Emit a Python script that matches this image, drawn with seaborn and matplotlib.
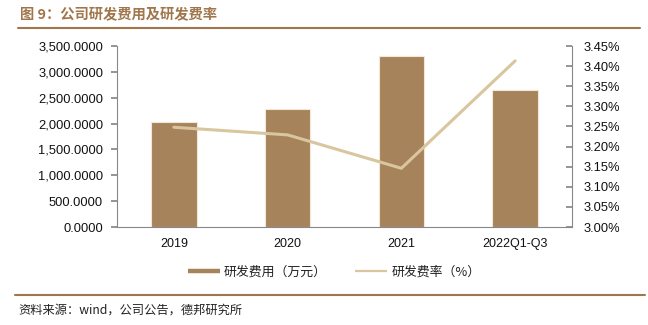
import matplotlib
matplotlib.use("Agg")
import matplotlib.pyplot as plt
import seaborn as sns
import numpy as np
import pandas as pd
from matplotlib.lines import Line2D
from matplotlib.ticker import FuncFormatter, MultipleLocator

categories = ["2019", "2020", "2021", "2022Q1-Q3"]
rd_expense = [2030, 2280, 3305, 2642]
rd_rate = [3.248, 3.229, 3.146, 3.413]

title_text = "图 9：公司研发费用及研发费率"
bar_label = "研发费用（万元）"
line_label = "研发费率（%）"
source_text = "资料来源：wind，公司公告，德邦研究所"

sns.set_theme(style="white")
plt.rcParams['font.family'] = ['Liberation Sans', 'Noto Sans CJK SC', 'DejaVu Sans']

bar_color = "#A6835B"
line_color = "#D9C59E"
brown = "#A0764C"
axis_gray = "#888888"

fig = plt.figure(figsize=(6.48, 3.25), dpi=100)
W, H = 648, 325
ax = fig.add_axes([117 / W, (H - 227) / H, 455 / W, 181 / H])

df = pd.DataFrame({"cat": categories, "exp": rd_expense})
sns.barplot(data=df, x="cat", y="exp", ax=ax, color=bar_color, width=0.4,
            edgecolor="#F3E8D8", linewidth=0.8, saturation=1)
ax.set_xlim(-0.5, 3.5)
ax.set_ylim(0, 3500)
ax.yaxis.set_major_locator(MultipleLocator(500))
ax.yaxis.set_major_formatter(FuncFormatter(lambda v, p: f"{v:,.4f}"))
ax.set_xlabel("")
ax.set_ylabel("")
ax.set_xticks(np.arange(len(categories)))
ax.set_xticklabels(categories)
ax.tick_params(axis="x", length=0, labelsize=9, pad=8, colors="#111111")
ax.set_xticks([0.5, 1.5, 2.5], minor=True)
ax.tick_params(axis="x", which="minor", direction="in", length=3, color=axis_gray)
ax.tick_params(axis="y", direction="out", length=4, color=axis_gray, labelsize=9.3,
               pad=6)
for lbl in ax.get_yticklabels():
    lbl.set_color("#111111")
ax.spines["top"].set_visible(False)
ax.spines["right"].set_visible(False)
for s in ["left", "bottom"]:
    ax.spines[s].set_color(axis_gray)
    ax.spines[s].set_linewidth(0.8)

ax2 = ax.twinx()
sns.lineplot(x=np.arange(len(categories)), y=rd_rate, ax=ax2, color=line_color,
             linewidth=2.2, sort=False)
ax2.set_ylim(3.00, 3.45)
ax2.yaxis.set_major_locator(MultipleLocator(0.05))
ax2.yaxis.set_major_formatter(FuncFormatter(lambda v, p: f"{v:.2f}%"))
ax2.tick_params(axis="y", direction="in", length=4, color=axis_gray, labelsize=9.3,
                pad=8)
for lbl in ax2.get_yticklabels():
    lbl.set_color("#111111")
for s in ["top", "left", "bottom"]:
    ax2.spines[s].set_visible(False)
ax2.spines["right"].set_color(axis_gray)
ax2.spines["right"].set_linewidth(0.8)
ax2.set_xlim(-0.5, 3.5)

# Title and rules
fig.text(20 / W, 1 - 14 / H, title_text, fontsize=10.3, fontweight="bold", color=brown,
         va="center", ha="left", family=['Noto Sans CJK SC', 'DejaVu Sans'])
fig.add_artist(Line2D([18 / W, 640 / W], [1 - 28 / H, 1 - 28 / H], color=brown,
                      linewidth=1.5, transform=fig.transFigure))
fig.add_artist(Line2D([15 / W, 645 / W], [1 - 295 / H, 1 - 295 / H], color=brown,
                      linewidth=1.5, transform=fig.transFigure))
fig.text(18 / W, 1 - 310 / H, source_text, fontsize=8.8, color="#222222",
         va="center", ha="left", family=['Noto Sans CJK SC', 'DejaVu Sans'])

handles = [Line2D([], [], color=bar_color, linewidth=3.2, solid_capstyle="butt"),
           Line2D([], [], color=line_color, linewidth=1.6, solid_capstyle="butt")]
leg = fig.legend(handles, [bar_label, line_label], loc="center",
                 bbox_to_anchor=(334 / W, 1 - 272 / H), ncol=2, frameon=False,
                 handlelength=2.5, handletextpad=0.3, columnspacing=2.2,
                 prop={"family": ['Noto Sans CJK SC', 'DejaVu Sans'], "size": 9.3})
for t in leg.get_texts():
    t.set_color("#222222")

fig.savefig("out.png", dpi=100)
